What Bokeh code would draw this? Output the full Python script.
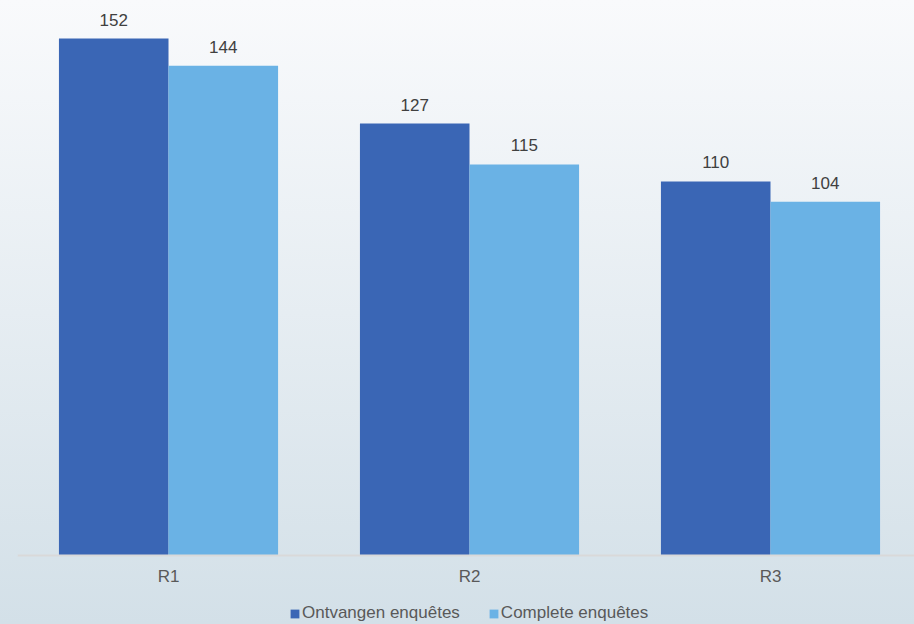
from bokeh.plotting import figure
from bokeh.models import ColumnDataSource, Range1d, FixedTicker, Legend, LegendItem
from bokeh.core.properties import value
from bokeh.embed import file_html
from bokeh.resources import INLINE

categories = ["R1", "R2", "R3"]
ontvangen = [152, 127, 110]
complete = [144, 115, 104]
series_names = ["Ontvangen enquêtes", "Complete enquêtes"]
colors = ["#3a66b5", "#6ab2e5"]

xs = list(range(len(categories)))
bw = 0.364
src1 = ColumnDataSource(dict(x=[i - bw / 2 for i in xs], top=ontvangen, lab=[str(v) for v in ontvangen]))
src2 = ColumnDataSource(dict(x=[i + bw / 2 for i in xs], top=complete, lab=[str(v) for v in complete]))

p = figure(frame_width=897, frame_height=624, output_backend="svg", toolbar_location=None,
           x_range=Range1d(-0.5017, 2.4784), y_range=Range1d(-20.29, 163.2),
           min_border_left=17, min_border_right=0, min_border_top=0, min_border_bottom=0,
           styles={"background": "linear-gradient(to bottom, #f9fafc 0%, #d3e0e8 100%)"})
p.background_fill_alpha = 0
p.border_fill_alpha = 0
p.outline_line_color = None
p.xgrid.visible = False
p.ygrid.visible = False
p.yaxis.visible = False

r1 = p.vbar(x="x", top="top", width=bw, bottom=0, source=src1, fill_color=colors[0], line_color=None)
r2 = p.vbar(x="x", top="top", width=bw, bottom=0, source=src2, fill_color=colors[1], line_color=None)

for s in (src1, src2):
    p.text(x="x", y="top", text="lab", source=s, text_align="center", text_baseline="middle",
           y_offset=-19, text_font=value("Liberation Sans"), text_font_size="17px", text_color="#404040")

ax = p.xaxis[0]
ax.fixed_location = 0
ax.ticker = FixedTicker(ticks=xs)
ax.major_label_overrides = {i: c for i, c in zip(xs, categories)}
ax.axis_line_color = "#d9d9d9"
ax.axis_line_width = 2
ax.major_tick_line_color = None
ax.minor_tick_line_color = None
ax.major_tick_out = 0
ax.major_tick_in = 0
ax.major_label_standoff = 12
ax.major_label_text_font = "Liberation Sans"
ax.major_label_text_font_size = "17px"
ax.major_label_text_color = "#595959"

legend = Legend(items=[LegendItem(label=series_names[0], renderers=[r1]),
                       LegendItem(label=series_names[1], renderers=[r2])],
                orientation="horizontal", location=(272, 1),
                label_text_font="Liberation Sans", label_text_font_size="17px",
                label_text_color="#595959", glyph_width=11, glyph_height=11,
                label_height=17, label_standoff=2, spacing=28, padding=0, margin=0,
                background_fill_alpha=0, border_line_color=None)
p.add_layout(legend, "center")

open("out.html", "w").write(file_html(p, INLINE))
